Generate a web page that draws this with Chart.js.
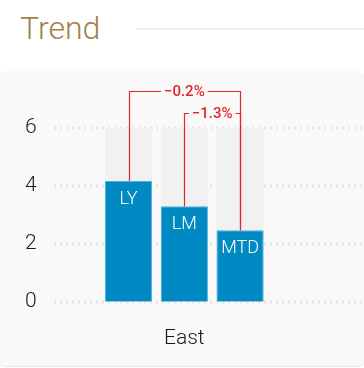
<!DOCTYPE html>
<html>
<head>
<meta charset="utf-8">
<script src="https://cdn.jsdelivr.net/npm/chart.js@4"></script>
<style>
  body { margin: 0; background: #fff; width: 364px; height: 368px; overflow: hidden; font-family: Roboto, sans-serif; }
  .title { position: absolute; left: 20px; top: 9px; font: 300 32px Roboto, sans-serif; color: #a08346; }
  .rule { position: absolute; left: 136px; right: 0; top: 28px; height: 2px; background: #f0f0f0; }
  .panel { position: absolute; left: 0; top: 71px; width: 364px; height: 295px; background: #f9f9f9; border-radius: 6px; box-shadow: 0 1px 1px #e6e6e6; }
  #chart { position: absolute; left: 0; top: 0; }
</style>
</head>
<body>
<div class="title">Trend</div>
<div class="rule"></div>
<div class="panel"><canvas id="chart" width="364" height="304"></canvas></div>
<script>
const categories = ['East'];
const seriesNames = ['LY', 'LM', 'MTD'];
const seriesValues = [4.17, 3.30, 2.47];
const yTicks = [0, 2, 4, 6];
const yMax = 6;
// bracket: from series a to series b, with its label
const brackets = [
    { from: 0, to: 2, text: '\u22120.2%', lift: 37 },
    { from: 1, to: 2, text: '\u22121.3%', lift: 15 },
];

const panelBg = '#f9f9f9';
const red = '#e3262d';

const datasets = seriesNames.map((name, i) => ({
    label: name,
    data: [seriesValues[i]],
    backgroundColor: '#0089c3',
    borderColor: '#52aedb',
    borderWidth: 1,
    categoryPercentage: 0.645,
    barPercentage: 0.847,
}));

const backdrop = {
    id: 'backdrop',
    beforeDatasetsDraw(chart) {
        const ctx = chart.ctx;
        const y = chart.scales.y;
        const area = chart.chartArea;
        ctx.save();
        // dotted grid
        ctx.strokeStyle = '#d2d2d2';
        ctx.lineWidth = 3;
        ctx.setLineDash([1, 5]);
        yTicks.forEach(v => {
            const py = Math.round(y.getPixelForValue(v));
            ctx.beginPath();
            ctx.moveTo(area.left, py);
            ctx.lineTo(chart.width, py);
            ctx.stroke();
        });
        ctx.setLineDash([]);
        // grey column behind each bar
        ctx.fillStyle = '#f1f1f1';
        chart.data.datasets.forEach((d, i) => {
            const bar = chart.getDatasetMeta(i).data[0];
            const top = y.getPixelForValue(yMax);
            const bottom = y.getPixelForValue(0);
            ctx.fillRect(bar.x - bar.width / 2, top, bar.width, bottom - top);
        });
        ctx.restore();
    },
    afterDatasetsDraw(chart) {
        const ctx = chart.ctx;
        const area = chart.chartArea;
        ctx.save();
        // names inside bars
        ctx.fillStyle = '#ffffff';
        ctx.font = '300 18px Roboto, sans-serif';
        ctx.textAlign = 'center';
        ctx.textBaseline = 'top';
        chart.data.datasets.forEach((d, i) => {
            const bar = chart.getDatasetMeta(i).data[0];
            ctx.fillText(d.label, bar.x, bar.y + 9);
        });
        // change brackets
        ctx.strokeStyle = red;
        ctx.lineWidth = 1.2;
        ctx.font = '500 15px Roboto, sans-serif';
        ctx.textBaseline = 'middle';
        brackets.forEach(b => {
            const a = chart.getDatasetMeta(b.from).data[0];
            const c = chart.getDatasetMeta(b.to).data[0];
            const ly = Math.round(area.top - b.lift) + 0.5;
            ctx.beginPath();
            ctx.moveTo(Math.round(a.x) + 0.5, a.y);
            ctx.lineTo(Math.round(a.x) + 0.5, ly);
            ctx.lineTo(Math.round(c.x) + 0.5, ly);
            ctx.lineTo(Math.round(c.x) + 0.5, c.y);
            ctx.stroke();
            const mx = (a.x + c.x) / 2;
            const w = ctx.measureText(b.text).width + 6;
            ctx.fillStyle = panelBg;
            ctx.fillRect(mx - w / 2, ly - 8, w, 16);
            ctx.fillStyle = red;
            ctx.fillText(b.text, mx, ly + 1);
        });
        ctx.restore();
    }
};

new Chart(document.getElementById('chart'), {
    type: 'bar',
    data: { labels: categories, datasets },
    options: {
        responsive: false,
        animation: false,
        layout: { padding: { left: 7, right: 50, top: 57, bottom: 0 } },
        plugins: { legend: { display: false }, tooltip: { enabled: false } },
        scales: {
            x: {
                grid: { display: false, drawTicks: false },
                border: { display: false },
                ticks: { color: '#1a1a1a', font: { family: 'Roboto', size: 21, weight: 300 }, padding: 24 },
            },
            y: {
                min: 0,
                max: yMax,
                afterBuildTicks: s => { s.ticks = yTicks.map(v => ({ value: v })); },
                grid: { display: false, drawTicks: false },
                border: { display: false },
                ticks: { color: '#1a1a1a', font: { family: 'Roboto', size: 21, weight: 300 }, padding: 18 },
            }
        }
    },
    plugins: [backdrop]
});
</script>
</body>
</html>
